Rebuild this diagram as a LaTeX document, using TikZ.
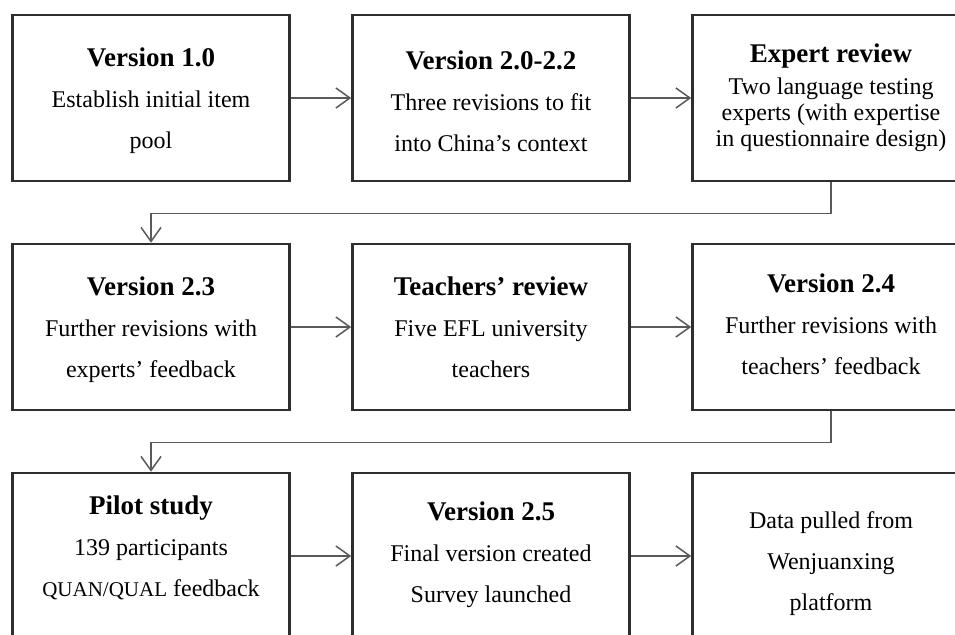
\documentclass[tikz,border=0pt]{standalone}
\usepackage{fontspec}
\setmainfont{Liberation Serif}
\usepackage{tikz}
\usetikzlibrary{arrows.meta}

\definecolor{boxline}{HTML}{2E2E2E}
\definecolor{linkline}{HTML}{5A5A5A}
\newcommand{\ttl}[1]{{\fontsize{27}{41}\selectfont\bfseries #1}}
\newcommand{\lift}[1]{\rule{0pt}{#1}}

\tikzset{
  stagebox/.style={draw=boxline, line width=2.6pt, minimum width=277pt,
    minimum height=166pt, inner sep=0pt, align=center,
    font=\fontsize{24}{41}\selectfont},
  link/.style={draw=linkline, line width=1.5pt,
    -{Straight Barb[length=14pt,width=20pt,line width=1.5pt]}}
}

\begin{document}
\begin{tikzpicture}[x=1pt, y=1pt]
      \useasboundingbox (0,0) rectangle (955,-634);
      \clip (0,0) rectangle (955,-634);

      % 1. first row
      \node[stagebox, text depth=0pt] (v10) at (151,-98)
        {\ttl{Version 1.0}\\ Establish initial item\\ pool};
      \node[stagebox, text depth=0pt] (v20) at (491,-98)
        {\lift{24pt}\ttl{Version 2.0-2.2}\\ Three revisions to fit\\ into China’s context};
      \node[stagebox, font=\fontsize{24}{26}\selectfont] (expert) at (831,-98)
        {\ttl{Expert review}\\[6pt] Two language testing\\ experts (with expertise\\ in questionnaire design)};

      % 2. second row
      \node[stagebox, text depth=0pt] (v23) at (151,-327)
        {\ttl{Version 2.3}\\ Further revisions with\\ experts’ feedback};
      \node[stagebox] (teach) at (491,-327)
        {\ttl{Teachers’ review}\\ Five EFL university\\ teachers};
      \node[stagebox, text depth=6pt] (v24) at (831,-327)
        {\ttl{Version 2.4}\\ Further revisions with\\ teachers’ feedback};

      % 3. third row
      \node[stagebox, text depth=19pt] (pilot) at (151,-556)
        {\ttl{Pilot study}\\ 139 participants\\ {\fontsize{21}{41}\selectfont QUAN/QUAL} feedback};
      \node[stagebox, text depth=7pt] (v25) at (491,-556)
        {\ttl{Version 2.5}\\ Final version created\\ Survey launched};
      \node[stagebox, text depth=0pt] (data) at (831,-556)
        {\lift{27pt}Data pulled from\\ Wenjuanxing\\ platform};

      % 4. connectors
      \draw[link] (v10) -- (v20);
      \draw[link] (v20) -- (expert);
      \draw[link] (expert.south) -- ++(0,-31) -| (v23.north);
      \draw[link] (v23) -- (teach);
      \draw[link] (teach) -- (v24);
      \draw[link] (v24.south) -- ++(0,-31) -| (pilot.north);
      \draw[link] (pilot) -- (v25);
      \draw[link] (v25) -- (data);
    \end{tikzpicture}
\end{document}
